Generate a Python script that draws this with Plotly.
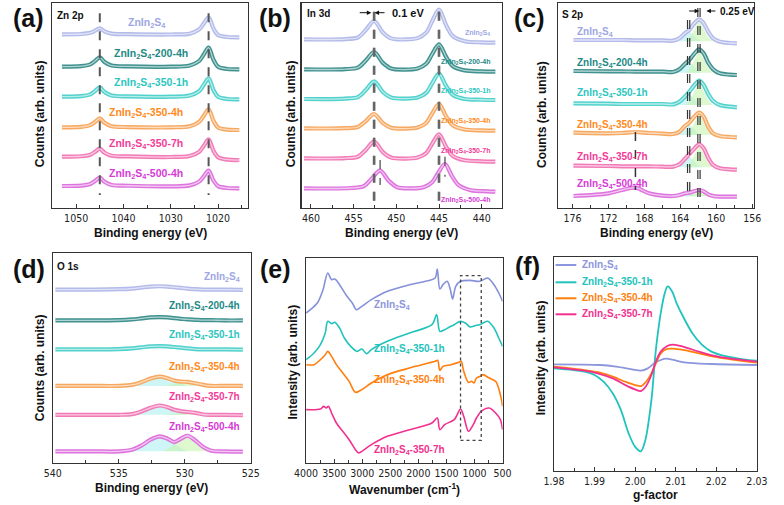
import plotly.graph_objects as go

W, H = 784, 505
FONT = "Liberation Sans, Arial, Helvetica, sans-serif"
NARROW = "Liberation Sans Narrow, Arial Narrow, DejaVu Sans Condensed, Liberation Sans, sans-serif"

# ---------------- data ----------------
suffixes = ["", "-200-4h", "-350-1h", "-350-4h", "-350-7h", "-500-4h"]
text_colors = ["#9EA7E3", "#1E8A86", "#2CC6C0", "#FF8A1C", "#F23C98", "#D63BD6"]
xps_colors = ["#B3BBEA", "#3F928F", "#52D2CD", "#F7A860", "#F27AB7", "#DE74DE"]

# (a) Zn 2p  (binding energy, eV ; counts, arb. units incl. stacking offset)
zn_x = [1053, 1049, 1047, 1046, 1045, 1044, 1042.5, 1039, 1030, 1026, 1024, 1023, 1022, 1021, 1020, 1018, 1015.5]
zn_y = [
    [521, 522, 525.5, 532, 539, 530, 523, 521.5, 520.5, 523, 535.6, 553.8, 572, 539.4, 519, 513, 512],
    [424, 425.4, 431, 440.8, 452, 438, 427.4, 424.8, 424, 427.4, 441, 461, 481, 445.6, 423.8, 417.1, 416],
    [334, 335.4, 341, 350.8, 362, 348, 337.4, 334.8, 334, 337.3, 350.5, 369.8, 389, 354.8, 333.6, 327.1, 326],
    [242, 243.4, 248.8, 258.2, 269, 255.5, 245.2, 242.8, 242, 245.2, 258.2, 277.1, 296, 262.3, 241.5, 235.1, 234],
    [154, 155.2, 160, 168.4, 178, 166, 156.9, 154.7, 153, 156.1, 168.6, 186.8, 206, 172.4, 152.2, 145, 144],
    [66, 67.2, 72.2, 81, 91, 78.5, 69, 66.7, 65, 67.8, 79.1, 95.5, 112, 83, 65.6, 60, 59],
]
zn_peaks = [1045.0, 1022.0]

# (b) In 3d
in_x = [460.8, 458, 456, 454.5, 453.6, 452.6, 451.6, 450.6, 449, 447.5, 446.5, 445.8, 445, 444.2, 443.4, 442, 440, 438.4]
in_x_500 = [460.8, 458, 455.3, 453.8, 452.9, 451.9, 450.9, 449.9, 448.3, 446.8, 445.8, 445.1, 444.3, 443.5, 442.7, 441.3, 439.3, 438.4]
in_y = [
    [506, 505.5, 506.7, 511.5, 533, 561, 527.4, 508.8, 505.6, 509.6, 526, 560.3, 595, 550.7, 516.3, 500.3, 496.9, 496],
    [416, 415.5, 416.6, 421.1, 441.5, 468, 436.1, 418.5, 415.3, 418.6, 432.5, 461.6, 491, 454.5, 426, 412.7, 409.8, 409],
    [327, 326.8, 328.1, 332.8, 353, 380, 348.7, 331.4, 328.3, 331.5, 345.3, 373.9, 403, 367.5, 339.9, 327.1, 324.8, 324],
    [239, 238.5, 239.4, 243, 260, 282, 255.3, 240.6, 238.1, 241.5, 255, 283.4, 312, 276.4, 248.6, 235.6, 232.8, 232],
    [149, 148.5, 149.6, 153.9, 173.5, 199, 168.3, 151.3, 148.3, 151.5, 164.5, 192.4, 221, 184.9, 156.6, 143.1, 140.1, 139],
    [59, 58.5, 60, 65.5, 88, 112, 82, 62.5, 58.9, 62.5, 77.5, 105, 132, 96.5, 68.5, 53.5, 50.1, 49],
]
in_peaks = [452.65, 452.55, 445.05, 444.95]
in_peaks_500 = [451.9, 444.3]

# (c) S 2p
s_x = [175.9, 172, 170.5, 169, 167.5, 166, 164.8, 164.1, 163.5, 163.0, 162.5, 161.9, 161.4, 160.9, 160.35, 159.6, 158.5, 157.7]
s_y = [
    [504, 504, 504, 503, 503, 503, 502, 509, 524, 534, 552, 566, 554, 529, 509, 499, 495, 494],
    [411, 410, 410, 409, 409, 409, 408, 416, 432, 444, 461, 476, 464, 436, 416, 404, 400, 399],
    [314, 313, 312, 312, 312, 312, 311, 319, 334, 349, 366, 382, 369, 342, 321, 309, 304, 302],
    [226, 224, 225, 228, 225, 223, 222, 229, 246, 256, 272, 286, 274, 244, 224, 216, 213, 212],
    [127, 126, 125, 125, 125, 124, 124, 131, 147, 162, 176, 191, 179, 151, 129, 119, 116, 115],
    [36, 44, 54, 61, 44, 37, 36, 39, 44, 46, 50, 54, 50, 41, 36, 34, 34, 34],
]
s_c1_x = [164.6, 164.0, 163.5, 163.05, 162.6, 162.1, 161.6]
s_c2_x = [163.4, 162.9, 162.4, 161.9, 161.4, 160.9, 160.4]
s_c1_y = [
    [500, 507, 520, 532, 520, 507, 500],
    [406, 413, 427, 440, 427, 413, 406],
    [309, 316, 331, 345, 331, 316, 309],
    [219, 226, 240, 252, 240, 226, 219],
    [122, 129, 144, 158, 144, 129, 122],
    [35, 37, 41, 45, 41, 37, 35],
]
s_c2_y = [
    [500, 513, 538, 562, 538, 513, 500],
    [406, 420, 446, 472, 446, 420, 406],
    [309, 323, 351, 378, 351, 323, 309],
    [219, 232, 258, 282, 258, 232, 219],
    [122, 135, 161, 187, 161, 135, 122],
    [35, 39, 46, 52, 46, 39, 35],
]
s_lines = [163.2, 162.95, 162.05, 161.8]
s_line_sox = 169.0

# (d) O 1s
o_x = [539.8, 537, 535, 534, 533.3, 532.6, 531.9, 531.3, 530.8, 530.3, 529.8, 529.2, 528.6, 528, 527, 525.6]
o_y = [
    [522, 522, 523, 525, 528, 531, 532, 531, 529, 527, 525, 523, 522, 522, 522, 521],
    [429, 429, 430, 432, 435, 438, 439, 438, 436, 434, 432, 431, 430, 430, 429, 429],
    [342, 342, 343, 345, 348, 351, 352, 351, 349, 347, 345, 343, 342, 342, 342, 341],
    [232, 232, 232, 235, 243, 254, 260, 255, 248, 245, 244, 240, 235, 232, 232, 232],
    [145, 145, 145, 147, 155, 166, 173, 168, 160, 156, 154, 151, 146, 145, 145, 144],
    [35, 35, 35, 40, 52, 70, 80, 73, 63, 73, 82, 68, 48, 37, 35, 34],
]
o_c1_x = [534, 533.3, 532.6, 531.9, 531.2, 530.5, 529.8]
o_c2_x = [531.6, 531.0, 530.5, 530.0, 529.5, 528.9, 528.3]
o_comp_idx = [3, 4, 5]
o_c1_y = [
    [232, 241, 253, 259, 253, 241, 232],
    [145, 154, 166, 172, 166, 154, 145],
    [35, 50, 70, 79, 70, 50, 35],
]
o_c2_y = [
    [232, 236, 241, 244, 241, 236, 232],
    [145, 148, 152, 154, 152, 148, 145],
    [35, 50, 71, 81, 71, 50, 35],
]

# (e) FTIR (wavenumber, cm-1 ; intensity incl. offset)
ir_samples = ["", "-350-1h", "-350-4h", "-350-7h"]
ir_colors = ["#8591D9", "#22C3BD", "#FF7F0E", "#F2318F"]
ir_text_colors = ["#8C96DC", "#22C3BD", "#FF7F0E", "#F2318F"]
ir_x = [
    [4000, 3801, 3699, 3614, 3546, 3489, 3404, 3291, 3177, 3104, 3007, 2837, 2553, 2156, 1873, 1702, 1663, 1617, 1561, 1487, 1430, 1390, 1334, 1249, 1078, 908, 766, 653, 568, 500],
    [4000, 3858, 3745, 3659, 3614, 3546, 3489, 3404, 3319, 3206, 3092, 3007, 2922, 2837, 2553, 2156, 1759, 1674, 1617, 1532, 1447, 1362, 1249, 1164, 1078, 993, 908, 766, 653, 568, 500],
    [4000, 3858, 3745, 3659, 3614, 3546, 3461, 3347, 3234, 3121, 3007, 2837, 2553, 2156, 1702, 1657, 1617, 1561, 1419, 1277, 1237, 1192, 1107, 1050, 1010, 965, 897, 851, 738, 624, 539, 500],
    [4000, 3745, 3688, 3642, 3603, 3546, 3461, 3347, 3234, 3121, 3064, 3007, 2837, 2553, 2156, 1759, 1663, 1617, 1532, 1362, 1249, 1192, 1107, 1022, 965, 880, 738, 624, 539, 500],
]
ir_y = [
    [450, 480, 520, 570, 550, 552, 535, 505, 480, 460, 470, 490, 515, 535, 545, 555, 582, 522, 535, 545, 520, 492, 530, 545, 548, 545, 555, 535, 510, 485],
    [310, 330, 355, 390, 425, 418, 422, 405, 375, 350, 335, 342, 328, 340, 365, 390, 415, 445, 395, 400, 408, 415, 425, 420, 408, 412, 415, 425, 405, 375, 350],
    [295, 295, 310, 325, 335, 320, 295, 270, 245, 212, 220, 240, 265, 285, 305, 308, 278, 290, 295, 302, 305, 275, 242, 245, 240, 255, 260, 265, 255, 245, 205, 170],
    [160, 162, 170, 165, 170, 150, 120, 95, 70, 40, 30, 35, 55, 80, 100, 120, 135, 100, 115, 130, 162, 140, 95, 115, 135, 155, 165, 150, 130, 100],
]
ir_box_x = [1249, 880]
ir_box_y = [68, 562]

# (f) EPR (g-factor ; intensity)
epr_samples = ["", "-350-1h", "-350-4h", "-350-7h"]
epr_colors = ["#8C96DC", "#22C3BD", "#FF7F0E", "#F2318F"]
epr_x = [
    [1.98, 1.9914, 1.9953, 1.9992, 2.0014, 2.0031, 2.0047, 2.0063, 2.0077, 2.0094, 2.0126, 2.0188, 2.03],
    [1.98, 1.9875, 1.99, 1.9922, 1.9945, 1.9965, 1.9984, 2.0, 2.0014, 2.0025, 2.004, 2.0051, 2.0063, 2.0073, 2.008, 2.0091, 2.0102, 2.0118, 2.0141, 2.0165, 2.0188, 2.022, 2.0267, 2.03],
    [1.98, 1.9875, 1.9914, 1.9945, 1.9976, 2.0, 2.0014, 2.0027, 2.004, 2.0051, 2.0063, 2.0079, 2.0094, 2.0118, 2.0157, 2.0204, 2.03],
    [1.98, 1.9875, 1.9914, 1.9945, 1.9976, 2.0, 2.0014, 2.0027, 2.004, 2.0051, 2.0063, 2.0079, 2.0094, 2.0118, 2.0157, 2.0204, 2.03],
]
epr_y = [
    [2, 0, -5, -13, -17, -10, 5, 15, 19, 15, 7, 3, 0],
    [-10, -20, -30, -50, -85, -135, -205, -245, -258, -225, -105, 45, 155, 215, 235, 220, 185, 145, 95, 60, 40, 27, 17, 13],
    [-5, -15, -23, -35, -50, -60, -63, -50, -25, 5, 35, 48, 49, 45, 35, 23, 7],
    [-7, -17, -27, -40, -60, -73, -78, -63, -30, 10, 40, 57, 61, 55, 40, 25, 10],
]

# ---------------- figure ----------------
fig = go.Figure()


def axn(i):
    return ("x" if i == 1 else f"x{i}"), ("y" if i == 1 else f"y{i}")


def line_trace(i, x, y, color, width, shape="spline", dash=None):
    xa, ya = axn(i)
    ld = dict(color=color, width=width)
    if shape:
        ld["shape"] = shape
        if shape == "spline":
            ld["smoothing"] = 0.9
    if dash:
        ld["dash"] = dash
    fig.add_trace(go.Scatter(x=x, y=y, xaxis=xa, yaxis=ya, mode="lines", line=ld,
                             hoverinfo="skip", showlegend=False))


def xps(i, x, y, color):
    line_trace(i, x, y, color, 4.2)
    line_trace(i, x, y, "rgba(255,255,255,0.6)", 1.3)


def fill_trace(i, x, y, color):
    xa, ya = axn(i)
    fig.add_trace(go.Scatter(x=x, y=y, xaxis=xa, yaxis=ya, mode="lines", fill="toself",
                             fillcolor=color, line=dict(width=0, color=color),
                             hoverinfo="skip", showlegend=False))


def vline(i, xv, y0, y1, color, width, dash="dash"):
    line_trace(i, [xv, xv], [y0, y1], color, width, shape=None, dash=dash)


CYAN_FILL = "rgba(165,238,238,0.55)"
GREEN_FILL = "rgba(200,243,175,0.6)"

# (a)
for k in range(6):
    xps(1, zn_x, zn_y[k], xps_colors[k])
for p in zn_peaks:
    vline(1, p, 584, 39, "#555", 2.0)

# (b)
for k in range(6):
    xps(2, in_x_500 if k == 5 else in_x, in_y[k], xps_colors[k])
for p in in_peaks:
    vline(2, p, 589, 14, "#666", 1.8)
vline(2, in_peaks_500[0], 144, 69, "#444", 1.2)
vline(2, in_peaks_500[1], 154, 94, "#444", 1.2)

# (c)
for k in range(6):
    fill_trace(3, s_c1_x, s_c1_y[k], CYAN_FILL)
    fill_trace(3, s_c2_x, s_c2_y[k], GREEN_FILL)
for k in range(6):
    xps(3, s_x, s_y[k], xps_colors[k])
vline(3, s_lines[0], 564, 24, "#333", 1.2)
vline(3, s_lines[1], 564, 24, "#333", 1.2)
vline(3, s_lines[2], 600, 24, "#333", 1.2)
vline(3, s_lines[3], 600, 24, "#333", 1.2)
vline(3, s_line_sox, 228, 54, "#333", 1.5)

# (d)
for j, k in enumerate(o_comp_idx):
    fill_trace(4, o_c1_x, o_c1_y[j], CYAN_FILL)
    fill_trace(4, o_c2_x, o_c2_y[j], GREEN_FILL)
for k in range(6):
    xps(4, o_x, o_y[k], xps_colors[k])

# (e)
for k in range(4):
    line_trace(5, ir_x[k], ir_y[k], ir_colors[k], 1.6, shape="spline")

# (f)
for k in range(4):
    line_trace(6, epr_x[k], epr_y[k], epr_colors[k], 1.8, shape="spline")

# ---------------- axes ----------------
panels = {
    1: dict(xd=(41.7, 243), yd=(3, 208), xr=[1055, 1013.7], yr=[0, 615], dt=10, mdt=5, fmt=None),
    2: dict(xd=(298.3, 505), yd=(3, 208), xr=[461.1, 437.6], yr=[0, 615], dt=5, mdt=2.5, fmt=None),
    3: dict(xd=(562.7, 764.4), yd=(3, 208), xr=[177.6, 155.8], yr=[0, 615], dt=4, mdt=2, fmt=None),
    4: dict(xd=(42, 246), yd=(253, 463), xr=[540, 525], yr=[0, 632], dt=5, mdt=2.5, fmt=None),
    5: dict(xd=(303, 505.4), yd=(258, 463), xr=[4000, 500], yr=[0, 615], dt=500, mdt=250, fmt="d"),
    6: dict(xd=(558.4, 767.4), yd=(257, 471), xr=[1.98, 2.03], yr=[-317, 323], dt=0.01, mdt=0.005, fmt=".2f"),
}
layout_axes = {}
for i, p in panels.items():
    xa, ya = axn(i)
    xkey = "xaxis" if i == 1 else f"xaxis{i}"
    ykey = "yaxis" if i == 1 else f"yaxis{i}"
    xd = dict(domain=[p["xd"][0] / W, p["xd"][1] / W], range=p["xr"], autorange=False,
              dtick=p["dt"], tick0=0, ticks="inside", ticklen=4, tickwidth=1, tickcolor="#333",
              showline=True, linewidth=1.2, linecolor="#333", mirror=True, showgrid=False,
              zeroline=False, tickfont=dict(family=NARROW, size=10.5, color="#222"),
              minor=dict(dtick=p["mdt"], tick0=0, ticks="inside", ticklen=3, tickwidth=1,
                         tickcolor="#333", showgrid=False),
              anchor=ya, fixedrange=True)
    if p["fmt"]:
        xd["tickformat"] = p["fmt"]
    yd = dict(domain=[1 - p["yd"][1] / H, 1 - p["yd"][0] / H], range=p["yr"], autorange=False,
              showticklabels=False, ticks="", showline=True, linewidth=1.2, linecolor="#333",
              mirror=True, showgrid=False, zeroline=False, anchor=xa, fixedrange=True)
    layout_axes[xkey] = xd
    layout_axes[ykey] = yd

# ---------------- annotations ----------------
anns = []


def ann(x, y, text, size, color="#111", xanchor="center", angle=0, bold=True):
    anns.append(dict(x=x / W, y=1 - y / H, xref="paper", yref="paper", text=(f"<b>{text}</b>" if bold else text),
                     showarrow=False, xanchor=xanchor, yanchor="middle", textangle=angle,
                     font=dict(family=FONT, size=size, color=color)))


def arrow(x_tip, x_tail, y):
    anns.append(dict(x=x_tip / W, y=1 - y / H, xref="paper", yref="paper", text="", showarrow=True,
                     ax=x_tail - x_tip, ay=0, arrowhead=2, arrowsize=0.9, arrowwidth=1, arrowcolor="#111"))


def label(suffix):
    return "ZnIn<sub>2</sub>S<sub>4</sub>" + suffix


# panel letters
for t, x, y in [("(a)", 17, 17.5), ("(b)", 271, 17.5), ("(c)", 533, 17.5),
                ("(d)", 17, 269), ("(e)", 271, 269), ("(f)", 531.5, 266)]:
    ann(x, y, t, 25)

# inner titles
ann(44.3, 15, "Zn 2p", 10, xanchor="left")
ann(301.4, 13, "In 3d", 10, xanchor="left")
ann(565, 14, "S 2p", 10, xanchor="left")
ann(44.3, 266, "O 1s", 10, xanchor="left")

# axis titles
for xc in [(41.7 + 243) / 2, (298.3 + 505) / 2, (562.7 + 764.4) / 2]:
    ann(xc, 233, "Binding energy (eV)", 12)
ann((42 + 246) / 2, 488, "Binding energy (eV)", 12)
ann((303 + 505.4) / 2, 489, "Wavenumber (cm<sup>-1</sup>)", 12)
ann((558.4 + 767.4) / 2, 495, "g-factor", 12)
for xc in [29, 287.6, 546]:
    ann(xc, 114, "Counts (arb. units)", 12, angle=-90)
ann(29, 368, "Counts (arb. units)", 12, angle=-90)
ann(290, 362, "Intensity (arb. units)", 12, angle=-90)
ann(545.3, 358, "Intensity (arb. units)", 12, angle=-90)

# (a) labels
a_pos = [(139.4, 23.3), (142.7, 54), (142.7, 83.3), (137.7, 113.3), (137.7, 144), (137.7, 174)]
for k, (x, y) in enumerate(a_pos):
    ann(x, y, label(suffixes[k]), 10.5, text_colors[k])
# (b) labels
b_pos = [(494, 33), (495, 61.7), (495, 90.7), (495, 120.7), (495, 150.7), (495, 200)]
for k, (x, y) in enumerate(b_pos):
    ann(x, y, label(suffixes[k]), 7, text_colors[k], xanchor="right")
# (c) labels
c_pos = [31.7, 62.7, 93.3, 125, 156.7, 184]
for k, y in enumerate(c_pos):
    ann(579.8, y, label(suffixes[k]), 10, text_colors[k], xanchor="left")
# (d) labels
d_pos = [276.7, 306, 335, 366.7, 396.7, 426.7]
for k, y in enumerate(d_pos):
    ann(237, y, label(suffixes[k]), 10, text_colors[k], xanchor="right")
# (e) labels
e_pos = [(391.6, 305), (409.6, 349.3), (409.6, 380), (409.6, 450)]
for k, (x, y) in enumerate(e_pos):
    ann(x, y, label(ir_samples[k]), 10, ir_text_colors[k])
# (f) legend
shapes = []
f_rows = [265, 282.3, 298.3, 314.3]
for k, y in enumerate(f_rows):
    shapes.append(dict(type="line", xref="paper", yref="paper", x0=560 / W, x1=581.4 / W,
                       y0=1 - y / H, y1=1 - y / H, line=dict(color=epr_colors[k], width=2)))
    ann(584.7, y, label(epr_samples[k]), 10, epr_colors[k], xanchor="left")

# shift arrows and texts
arrow(370.2, 357.1, 12.7)
arrow(373.5, 385.0, 12.7)
ann(389, 12.7, "0.1 eV", 11, xanchor="left")
arrow(707.9, 696.4, 11)
arrow(715.4, 725.9, 11)
ann(727.6, 11, "0.25 eV", 10, xanchor="left")

# FTIR box
shapes.append(dict(type="rect", xref="x5", yref="y5", x0=ir_box_x[0], x1=ir_box_x[1],
                   y0=ir_box_y[0], y1=ir_box_y[1], line=dict(color="#444", width=1.3, dash="dot")))

fig.update_layout(width=W, height=H, margin=dict(l=0, r=0, t=0, b=0),
                  paper_bgcolor="white", plot_bgcolor="white", showlegend=False,
                  annotations=anns, shapes=shapes, font=dict(family=FONT), **layout_axes)

fig.write_html("out.html", config={"displayModeBar": False, "staticPlot": True},
               post_script="document.body.style.margin='0';document.body.style.padding='0';document.body.style.overflow='hidden';")
